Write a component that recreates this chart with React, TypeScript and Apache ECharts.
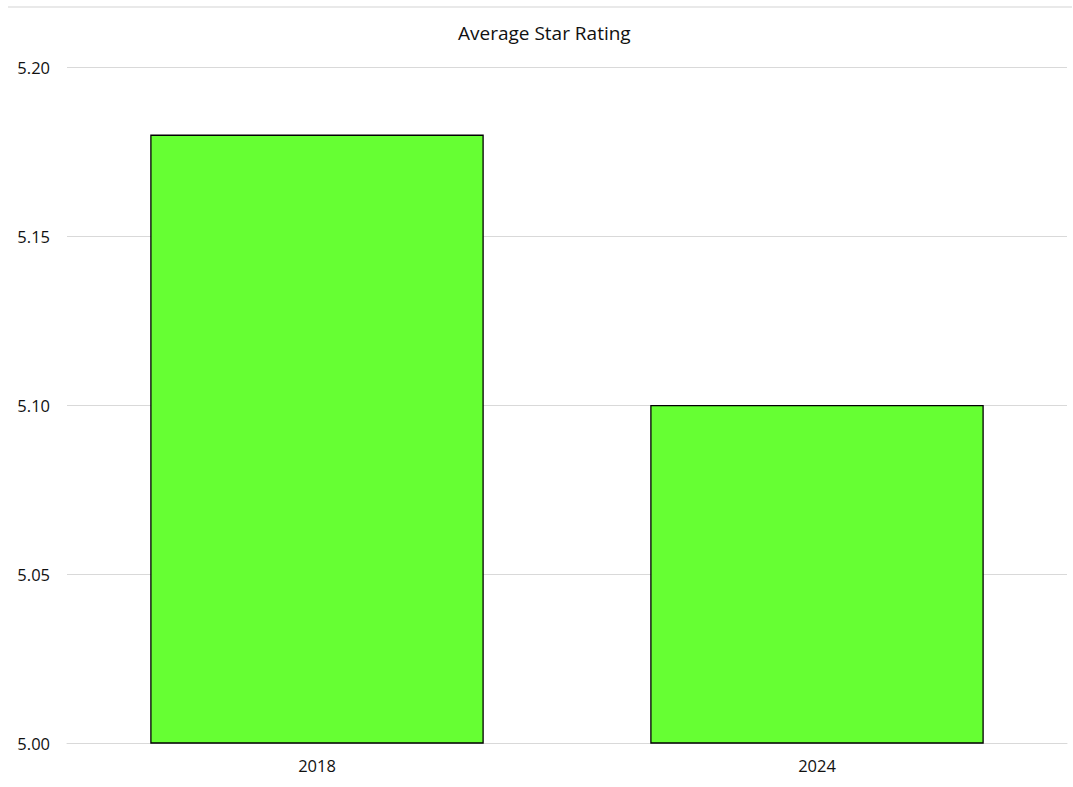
import React, { useEffect, useRef } from "react";
import * as echarts from "echarts";

const categories = ["2018", "2024"];
const ratings = [5.18, 5.1];
const yTicks = { min: 5.0, max: 5.2, interval: 0.05 };
const title = "Average Star Rating";

export default function App() {
  const ref = useRef<HTMLDivElement>(null);
  useEffect(() => {
    if (!ref.current) return;
    const chart = echarts.init(ref.current, null, { renderer: "svg" });
    const font = "'Open Sans', 'Noto Sans', sans-serif";
    chart.setOption({
      animation: false,
      backgroundColor: "#ffffff",
      title: {
        text: title,
        left: 458,
        top: 23,
        padding: 0,
        textStyle: { fontFamily: font, fontSize: 19, fontWeight: "normal", color: "#111" },
      },
      graphic: [
        {
          type: "line",
          shape: { x1: 8, y1: 7, x2: 1072, y2: 7 },
          style: { stroke: "#e2e2e2", lineWidth: 1.5 },
        },
      ],
      grid: { left: 67, right: 6, top: 67, bottom: 44, containLabel: false },
      xAxis: {
        type: "category",
        data: categories,
        axisLine: { show: true, lineStyle: { color: "#d9d9d9", width: 1 } },
        axisTick: { show: false },
        axisLabel: { fontFamily: font, fontSize: 16.5, color: "#111", margin: 14 },
      },
      yAxis: {
        type: "value",
        min: yTicks.min,
        max: yTicks.max,
        interval: yTicks.interval,
        axisLine: { show: false },
        axisTick: { show: false },
        splitLine: { lineStyle: { color: "#d9d9d9", width: 1 } },
        axisLabel: {
          fontFamily: font,
          fontSize: 16.5,
          color: "#111",
          margin: 17,
          formatter: (v: number) => v.toFixed(2),
        },
      },
      series: [
        {
          type: "bar",
          data: ratings,
          barWidth: "66.7%",
          itemStyle: { color: "#66ff33", borderColor: "#000000", borderWidth: 1.3 },
        },
      ],
    });
    return () => chart.dispose();
  }, []);
  return (
    <div
      ref={ref}
      style={{ position: "fixed", left: 0, top: 0, width: 1073, height: 787 }}
    />
  );
}
